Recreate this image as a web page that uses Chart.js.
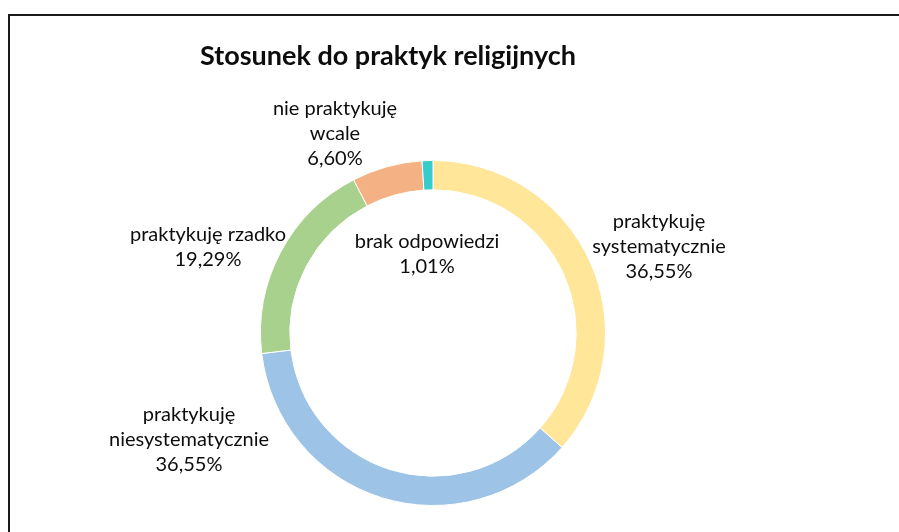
<!DOCTYPE html>
<html>
<head>
<meta charset="utf-8">
<script src="https://cdn.jsdelivr.net/npm/chart.js@4"></script>
<style>
    html, body { margin: 0; padding: 0; background: #fff; overflow: hidden; }
    #wrap { position: relative; width: 899px; height: 532px; }
    #frame {
        position: absolute; left: 8px; top: 14px; width: 1000px; height: 600px;
        border: 2px solid #1a1a1a; box-sizing: border-box;
    }
    canvas { position: absolute; left: 0; top: 0; }
</style>
</head>
<body>
<div id="wrap">
    <div id="frame"></div>
    <canvas id="chart" width="899" height="532"></canvas>
</div>
<script>
const chartTitle = "Stosunek do praktyk religijnych";
const categories = [
    ["praktykuję", "systematycznie"],
    ["praktykuję", "niesystematycznie"],
    ["praktykuję rzadko"],
    ["nie praktykuję", "wcale"],
    ["brak odpowiedzi"]
];
const values = [36.55, 36.55, 19.29, 6.60, 1.01];
const colors = ["#FFE699", "#9DC3E6", "#A9D18E", "#F4B183", "#36CCCC"];

// label placement relative to doughnut centre (Excel put them by hand)
const labelShift = [
    { dx: 226, dy: -86 },
    { dx: -244, dy: 107 },
    { dx: -225, dy: -86 },
    { dx: -98, dy: -199 },
    { dx: -6, dy: -79 }
];

const FONT = "Lato, 'Open Sans', 'DejaVu Sans', sans-serif";

const labelPlugin = {
    id: "sliceLabels",
    afterDraw(chart) {
        const ctx = chart.ctx;
        const arcs = chart.getDatasetMeta(0).data;
        ctx.save();
        ctx.fillStyle = "#0d0d0d";
        ctx.textAlign = "center";
        ctx.textBaseline = "middle";

        ctx.font = "bold 27px " + FONT;
        ctx.fillText(chartTitle, 388, 56);

        ctx.font = "20px " + FONT;
        const lh = 25;
        arcs.forEach((arc, i) => {
            const lines = categories[i].concat([values[i].toFixed(2).replace(".", ",") + "%"]);
            const cx = arc.x + labelShift[i].dx;
            const cy = arc.y + labelShift[i].dy;
            const top = cy - (lines.length - 1) * lh / 2;
            lines.forEach((t, j) => ctx.fillText(t, cx, top + j * lh));
        });
        ctx.restore();
    }
};

new Chart(document.getElementById("chart"), {
    type: "doughnut",
    data: {
        labels: categories.map(c => c.join(" ")),
        datasets: [{
            data: values,
            backgroundColor: colors,
            borderColor: "#ffffff",
            borderWidth: 1
        }]
    },
    options: {
        responsive: false,
        animation: false,
        cutout: "83%",
        rotation: 0,
        layout: { padding: { top: 160, bottom: 26, left: 260, right: 293 } },
        plugins: {
            legend: { display: false },
            tooltip: { enabled: false },
            title: { display: false }
        }
    },
    plugins: [labelPlugin]
});
</script>
</body>
</html>
